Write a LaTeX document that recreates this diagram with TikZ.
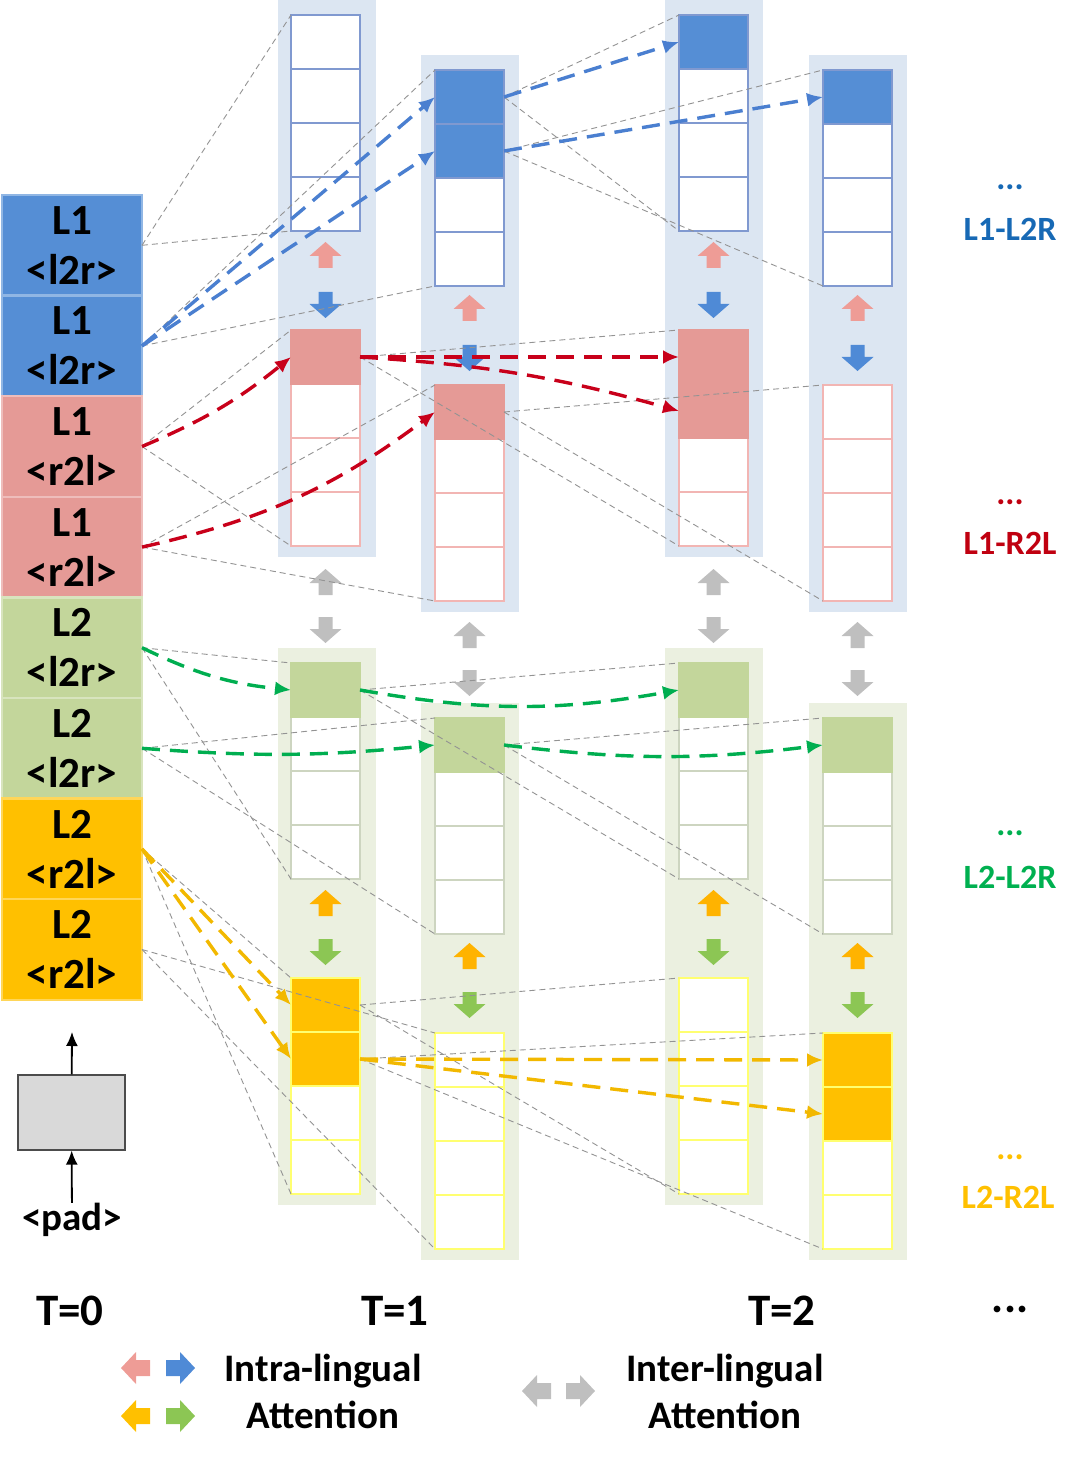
\documentclass[tikz,border=0pt]{standalone}
\usepackage{fontspec}
\setmainfont{Carlito}
\usetikzlibrary{arrows.meta}

\definecolor{lonebg}{HTML}{DCE6F2}
\definecolor{ltwobg}{HTML}{EBF0E0}
\definecolor{cblue}{HTML}{558ED5}
\definecolor{cpink}{HTML}{E59A96}
\definecolor{cgreen}{HTML}{C3D69B}
\definecolor{cyel}{HTML}{FFC000}
\definecolor{bdblue}{HTML}{8099D0}
\definecolor{bdpink}{HTML}{F2B5B3}
\definecolor{bdgreen}{HTML}{CDD5C0}
\definecolor{bdyel}{HTML}{FFFF70}
\definecolor{arpink}{HTML}{EE9C96}
\definecolor{arblue}{HTML}{4F8AD6}
\definecolor{argray}{HTML}{BFBFBF}
\definecolor{arorange}{HTML}{FFB300}
\definecolor{argreen}{HTML}{8CC654}
\definecolor{dblue}{HTML}{4A7FD0}
\definecolor{dred}{HTML}{C8001A}
\definecolor{dgreen}{HTML}{00AE50}
\definecolor{dyel}{HTML}{F2B800}
\definecolor{tblue}{HTML}{1769B5}
\definecolor{tred}{HTML}{C00010}
\definecolor{tgreen}{HTML}{00B050}

\tikzset{
  tzero/.style={minimum width=70pt, minimum height=50.3pt, inner sep=0pt, outer sep=0pt,
    align=center, line width=1.2pt, font=\fontsize{21.5}{25}\selectfont\bfseries},
  cell/.style={draw, fill=white, minimum width=34.5pt, minimum height=27pt,
    inner sep=0pt, outer sep=0pt, line width=1pt},
  fblue/.style={fill=cblue, draw=bdblue, line width=1pt},
  fpink/.style={fill=cpink, draw=cpink, line width=1pt},
  fgreen/.style={fill=cgreen, draw=cgreen, line width=1pt},
  fyel/.style={fill=cyel, draw=bdyel, line width=1pt},
  proj/.style={gray!85, dash pattern=on 3pt off 2pt, line width=0.45pt},
  att/.style={->, line width=1.7pt, dash pattern=on 9pt off 5pt},
  padarr/.style={-{Latex[length=7pt,width=6pt]}, line width=0.9pt},
  lbl/.style={font=\fontsize{19.5}{23.5}\selectfont\bfseries, align=center, inner sep=0pt},
  tlbl/.style={font=\fontsize{22.5}{25}\selectfont\bfseries, inner sep=0pt},
  side/.style={font=\fontsize{17}{20}\selectfont\bfseries, inner sep=0pt},
  uparr/.pic={\fill[#1] (0,-13) -- (16,1) -- (7,1) -- (7,13) -- (-7,13) -- (-7,1) -- (-16,1) -- cycle;},
  downarr/.pic={\fill[#1] (0,13) -- (16,-1) -- (7,-1) -- (7,-13) -- (-7,-13) -- (-7,-1) -- (-16,-1) -- cycle;},
  leftarr/.pic={\fill[#1] (-15,0) -- (0,-16) -- (0,-8) -- (14,-8) -- (14,8) -- (0,8) -- (0,16) -- cycle;},
  rightarr/.pic={\fill[#1] (15,0) -- (0,-16) -- (0,-8) -- (-14,-8) -- (-14,8) -- (0,8) -- (0,16) -- cycle;},
}

\begin{document}
\begin{tikzpicture}[x=0.5pt, y=-0.5pt, >={Latex[length=8pt,width=7pt]}]
\useasboundingbox (0,0) rectangle (1080,1460);

% panels
\foreach \px/\off in {278/0, 421/55, 665/0, 809/55}{
  \fill[lonebg] (\px,\off) rectangle +(98,557);
  \fill[ltwobg] (\px,648+\off) rectangle +(98,557);
}

% block arrows inside the panels
\foreach \cx/\off in {325.5/0, 469.5/53, 713.5/0, 857.5/53}{
  \pic at (\cx,255+\off) {uparr=arpink};
  \pic at (\cx,305+\off) {downarr=arblue};
  \pic at (\cx,582+\off) {uparr=argray};
  \pic at (\cx,630+\off) {downarr=argray};
  \pic at (\cx,903+\off) {uparr=arorange};
  \pic at (\cx,952+\off) {downarr=argreen};
}

% stacks of cells
\foreach \col/\cx/\off in {a/325.5/0, b/469.5/55, c/713.5/0, d/857.5/55}
  \foreach \g/\gtop/\bc in {0/15/bdblue, 1/330/bdpink, 2/663/bdgreen, 3/978/bdyel}
    \foreach \k in {1,...,4}{
      \pgfmathtruncatemacro\n{4*\g+\k}
      \node[cell, draw=\bc] (\col\n) at (\cx, \gtop+\off+54*\k-27) {};
    }

\foreach \c/\f in {a5/fpink, a9/fgreen, a13/fyel, a14/fyel, b1/fblue, b2/fblue, b5/fpink, b9/fgreen,
    c1/fblue, c5/fpink, c6/fpink, c9/fgreen, d1/fblue, d9/fgreen, d13/fyel, d14/fyel}
  \draw[\f] (\c.north west) rectangle (\c.south east);

% T=0 column
\foreach \i/\ta/\tb/\fc in {1/L1/<l2r>/cblue, 2/L1/<l2r>/cblue, 3/L1/<r2l>/cpink, 4/L1/<r2l>/cpink,
    5/L2/<l2r>/cgreen, 6/L2/<l2r>/cgreen, 7/L2/<r2l>/cyel, 8/L2/<r2l>/cyel}
  \node[tzero, fill=\fc, draw=\fc!65!white] (s\i) at (72, 195+100.6*\i-50.3) {\ta\\\tb};

\node[draw=black!70, fill=black!15, minimum width=53.5pt, minimum height=37.5pt,
  line width=0.6pt, inner sep=0pt] (enc) at (71.5,1112.5) {};
\node[lbl] (pad) at (72,1220) {<pad>};
\coordinate (out) at (72,1032);
\draw[padarr] (pad) -- (enc);
\draw[padarr] (enc) -- (out);

% projection lines
\foreach \f/\t/\u in {s1/a1/a4, s2/b1/b4, s3/a5/a8, s4/b5/b8, s5/a9/a12, s6/b9/b12, s7/a13/a16, s8/b13/b16,
    b1/c1/c4, b2/d1/d4, a5/c5/c8, b5/d5/d8, a9/c9/c12, b9/d9/d12, a13/c13/c16, a14/d13/d16}{
  \draw[proj] (\f.east) -- (\t.north west);
  \draw[proj] (\f.east) -- (\u.south west);
}

% attention
\draw[att, dblue] (s2.east) -- (b1.west);
\draw[att, dblue] (s2.east) -- (b2.west);
\draw[att, dblue] (b1.east) -- (c1.west);
\draw[att, dblue] (b2.east) -- (d1.west);
\draw[att, dred] (s3.east) to[bend right=8] (a5.west);
\draw[att, dred] (s4.east) to[bend right=12] (b5.west);
\draw[att, dred] (a5.east) -- (c5.west);
\draw[att, dred] (a5.east) to[bend left=6] (c6.west);
\draw[att, dgreen] (s5.east) to[bend right=10] (a9.west);
\draw[att, dgreen] (s6.east) to[bend right=5] (b9.west);
\draw[att, dgreen] (a9.east) to[bend right=10] (c9.west);
\draw[att, dgreen] (b9.east) to[bend right=7] (d9.west);
\draw[att, dyel] (s7.east) -- (a13.west);
\draw[att, dyel] (s7.east) -- (a14.west);
\draw[att, dyel] (a14.east) -- (d13.west);
\draw[att, dyel] (a14.east) -- (d14.west);

% side labels
\node[side, tblue] (dta) at (1010,187) {...};
\node[side, tblue] (lta) at (1010,229) {L1-L2R};
\node[side, tred] (dtb) at (1010,502) {...};
\node[side, tred] (ltb) at (1010,543) {L1-R2L};
\node[side, tgreen] (dtc) at (1010,833) {...};
\node[side, tgreen] (ltc) at (1010,877) {L2-L2R};
\node[side, cyel] (dtd) at (1010,1157) {...};
\node[side, cyel] (ltd) at (1008,1197) {L2-R2L};

% time steps
\node[tlbl] (tz) at (70,1311) {T=0};
\node[tlbl] (to) at (395,1311) {T=1};
\node[tlbl] (tt) at (782,1311) {T=2};
\node[tlbl] (tm) at (1010,1309) {...};

% legend
\pic at (136,1368) {leftarr=arpink};
\pic at (180,1368) {rightarr=arblue};
\pic at (136,1416) {leftarr=cyel};
\pic at (180,1416) {rightarr=argreen};
\pic at (537,1391) {leftarr=argray};
\pic at (580,1391) {rightarr=argray};
\node[lbl] (intra) at (323,1391) {Intra-lingual\\Attention};
\node[lbl] (inter) at (725,1391) {Inter-lingual\\Attention};
\end{tikzpicture}
\end{document}
